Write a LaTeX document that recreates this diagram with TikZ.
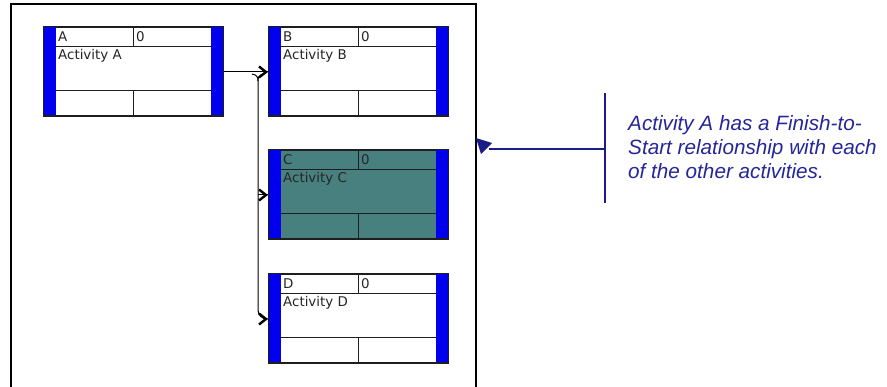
\documentclass[tikz,border=0pt]{standalone}
\usepackage{fontspec}
\newfontfamily\boxfont{DejaVu Sans}
\newfontfamily\annofont{Liberation Sans}
\usetikzlibrary{arrows.meta,calc}
\definecolor{barblue}{RGB}{0,0,238}
\definecolor{tealfill}{RGB}{72,128,128}
\definecolor{navyline}{RGB}{28,28,135}
\definecolor{navytext}{RGB}{38,38,155}
\definecolor{gridgray}{RGB}{30,30,30}
\tikzset{
  actnode/.style={draw=gridgray, line width=1pt, minimum width=180pt, minimum height=89pt, inner sep=0pt, anchor=north west},
  gridline/.style={draw=gridgray, line width=1pt},
  bartext/.style={font=\boxfont\fontsize{13.4}{14}\selectfont, inner sep=0pt, anchor=base west, text=black!85},
  anno/.style={font=\annofont\itshape\fontsize{20.7}{24}\selectfont, inner sep=0pt, anchor=base west, text=navytext},
  conn/.style={draw=black, line width=1pt},
  chevstroke/.style={draw=black, line width=2.4pt, miter limit=4},
  frameline/.style={draw=black, line width=2pt},
  annoline/.style={draw=navyline, line width=1.6pt},
}
\newcommand\chevat[1]{%
  \draw[chevstroke] ($(#1)+(-9,-5.5)$) -- ($(#1)+(-2,0)$) -- ($(#1)+(-9,5.5)$);}
\newcommand\actbox[6]{%
  \node[actnode, fill=#6] (#1) at (#2,#3) {};
  \fill[barblue] (#2,#3) rectangle ++(13,89);
  \fill[barblue] ($(#2,#3)+(168,0)$) rectangle ++(12,89);
  \draw[gridline] (#2,#3) rectangle ++(180,89);
  \draw[gridline] ($(#2,#3)+(13,20)$) -- ++(155,0);
  \draw[gridline] ($(#2,#3)+(13,64)$) -- ++(155,0);
  \draw[gridline] ($(#2,#3)+(90,0)$) -- ++(0,20);
  \draw[gridline] ($(#2,#3)+(90,64)$) -- ++(0,25);
  \node[bartext] (#1id) at ($(#2,#3)+(15,15)$) {#4};
  \node[bartext] (#1dur) at ($(#2,#3)+(93,15)$) {0};
  \node[bartext] (#1name) at ($(#2,#3)+(15,33)$) {#5};
}
\begin{document}
\begin{tikzpicture}[x=1pt,y=-1pt]
\useasboundingbox (0,0) rectangle (887,387);
\fill[white] (0,0) rectangle (887,387);
% frame
\draw[frameline] (11,400) -- (11,4) -- (476,4) -- (476,400);
% boxes
\actbox{A}{43}{27}{A}{Activity A}{white}
\actbox{B}{268}{27}{B}{Activity B}{white}
\actbox{C}{268}{150}{C}{Activity C}{tealfill}
\actbox{D}{268}{274}{D}{Activity D}{white}
% connectors
\draw[conn] (A.east) -- (B.west);
\draw[conn] (252,74) .. controls (257,75) and (258,77) .. (258,81);
\draw[conn] (264,74) .. controls (259,75) and (258,77) .. (258,81);
\draw[conn, rounded corners=9pt] (258,81) -- ($(D.west)+(-10,0)$) -- (D.west);
\draw[conn] ($(C.west)+(-10,0)$) -- (C.west);
\chevat{B.west}
\chevat{C.west}
\chevat{D.west}
% annotation
\coordinate (annoJoin) at (605,149);
\coordinate (frameHit) at (489,149);
\draw[annoline] (605,93) -- (605,203);
\draw[annoline] (annoJoin) -- (frameHit);
\fill[navyline] (476,138) -- (492,143) -- (481,154) -- cycle;
\node[anno] (t1) at (628,131) {Activity A has a Finish-to-};
\node[anno] (t2) at (628,155) {Start relationship with each};
\node[anno] (t3) at (628,179) {of the other activities.};
\end{tikzpicture}
\end{document}
